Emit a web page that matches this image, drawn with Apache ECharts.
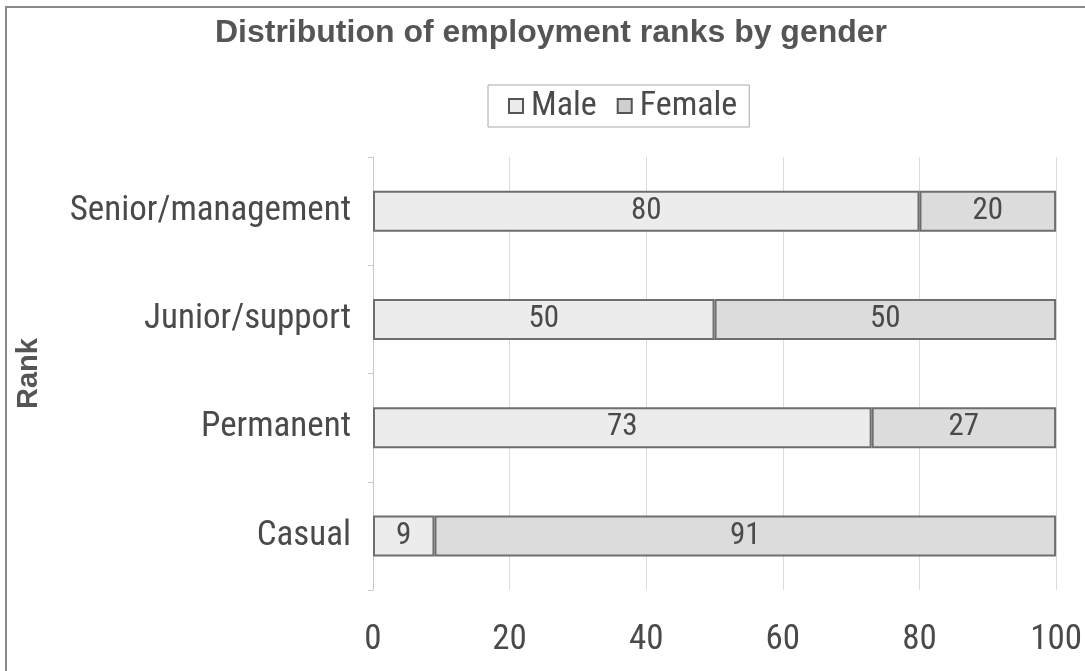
<!DOCTYPE html>
<html><head><meta charset="utf-8">
<script src="https://cdn.jsdelivr.net/npm/echarts@6/dist/echarts.min.js"></script>
<style>html,body{margin:0;padding:0;background:#fff}#c{width:1085px;height:671px}</style>
</head><body><div id="c"></div>
<script>
const categories = ['Casual', 'Permanent', 'Junior/support', 'Senior/management'];
const maleValues = [9, 73, 50, 80];
const femaleValues = [91, 27, 50, 20];
const xTicks = [0, 20, 40, 60, 80, 100];

const FONT = '"Roboto Condensed", "Liberation Sans", Arial, sans-serif';
const chart = echarts.init(document.getElementById('c'));
const barStyle = (c) => ({ color: c, borderColor: '#6e6e6e', borderWidth: 2 });
const lbl = { show: true, position: 'inside', color: '#4a4a4a', fontSize: 31, fontFamily: FONT };
chart.setOption({
  animation: false,
  title: {
    text: 'Distribution of employment ranks by gender',
    left: 546, top: 12, textAlign: 'center',
    textStyle: { fontFamily: '"Liberation Sans", Arial, sans-serif', fontWeight: 'bold', fontSize: 32, color: '#555' }
  },
  legend: {
    left: 488, top: 85, itemWidth: 14, itemHeight: 14, itemGap: 20,
    borderColor: '#aaa', borderWidth: 1, padding: [4, 12, 4, 20],
    textStyle: { fontFamily: FONT, fontSize: 34, color: '#4a4a4a', padding: [0, 0, 0, 3] },
    data: [
      { name: 'Male', icon: 'rect', itemStyle: { color: '#ebebeb', borderColor: '#555', borderWidth: 2 } },
      { name: 'Female', icon: 'rect', itemStyle: { color: '#cfcfcf', borderColor: '#555', borderWidth: 2 } }
    ]
  },
  grid: { left: 373, right: 28, top: 157, bottom: 81 },
  xAxis: {
    type: 'value', min: 0, max: 100, interval: 20,
    axisLine: { show: false }, axisTick: { show: false },
    splitLine: { lineStyle: { color: '#dcdcdc', width: 1 } },
    axisLabel: { fontFamily: FONT, fontSize: 35, color: '#4a4a4a', margin: 33,
      formatter: (v) => xTicks.includes(v) ? String(v) : '' }
  },
  yAxis: {
    type: 'category', data: categories,
    name: 'Rank', nameLocation: 'middle', nameGap: 330, nameRotate: 90,
    nameTextStyle: { fontFamily: '"Liberation Sans", Arial, sans-serif', fontWeight: 'bold', fontSize: 29, color: '#555', lineHeight: 29 },
    axisLine: { lineStyle: { color: '#c8c8c8', width: 1 } },
    axisTick: { show: true, length: 5, lineStyle: { color: '#c8c8c8' } },
    axisLabel: { fontFamily: FONT, fontSize: 35, color: '#4a4a4a', margin: 22 }
  },
  series: [
    { name: 'Male', type: 'bar', stack: 'a', data: maleValues, barWidth: 41,
      itemStyle: barStyle('#ececec'), label: lbl },
    { name: 'Female', type: 'bar', stack: 'a', data: femaleValues, barWidth: 41,
      itemStyle: barStyle('#dcdcdc'), label: lbl }
  ],
  graphic: [
    { type: 'rect', shape: { x: 6, y: 7, width: 1100, height: 700 }, style: { fill: 'none', stroke: '#888', lineWidth: 2 }, silent: true }
  ]
});
</script></body></html>
